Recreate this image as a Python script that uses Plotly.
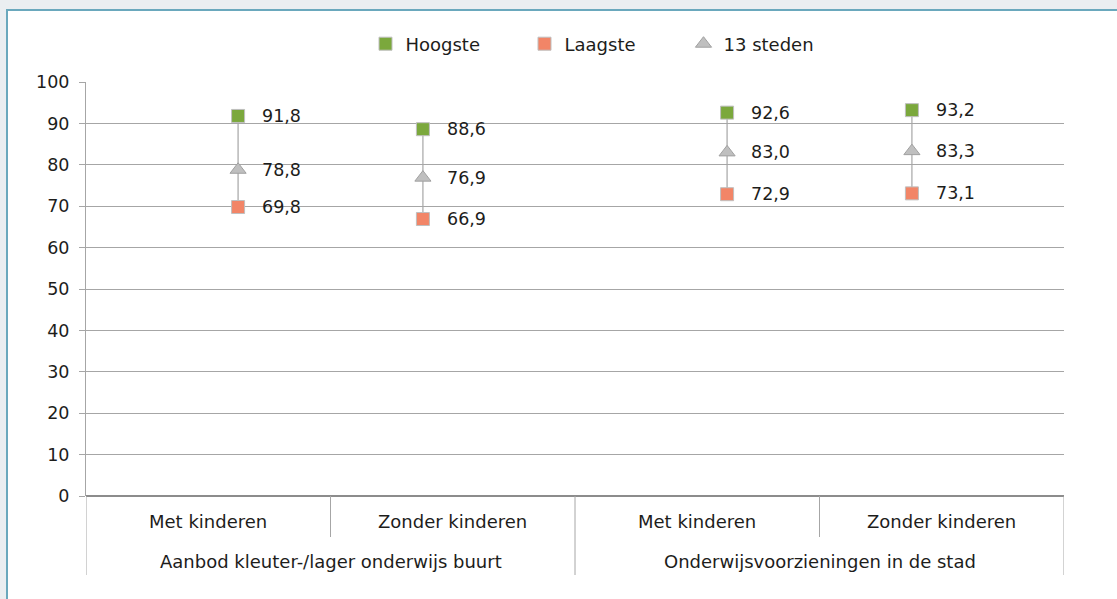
import plotly.graph_objects as go

# ---- data ----
groups = ["Aanbod kleuter-/lager onderwijs buurt", "Onderwijsvoorzieningen in de stad"]
subcats = ["Met kinderen", "Zonder kinderen", "Met kinderen", "Zonder kinderen"]
hoogste = [91.8, 88.6, 92.6, 93.2]
laagste = [69.8, 66.9, 72.9, 73.1]
steden13 = [78.8, 76.9, 83.0, 83.3]
y_ticks = list(range(0, 101, 10))

W, H = 1117, 599
FONT = "DejaVu Sans"
FS = 18      # words
FN = 17.5    # numbers
TXT = "#1d1d1b"
GRID = "#a6a6a6"

# plot area in pixels
L, R, T, B = 86, 1064, 82, 496
def px(x):
    return x / W
def py(y):
    return 1 - y / H

# marker positions: category index with a small alternating offset (as in the original)
off = 0.122
xpos = [i + (off if i % 2 == 0 else -off) for i in range(len(subcats))]

fig = go.Figure()

# connectors high-low
lx, ly = [], []
for x, lo, hi in zip(xpos, laagste, hoogste):
    lx += [x, x, None]
    ly += [lo, hi, None]
fig.add_trace(go.Scatter(x=lx, y=ly, mode="lines", line=dict(color="#a6a6a6", width=1.2),
                         showlegend=False, hoverinfo="skip"))

fig.add_trace(go.Scatter(x=xpos, y=hoogste, mode="markers", name="Hoogste",
                         marker=dict(symbol="square", size=13, color="#7ba83c",
                                     line=dict(color="#bfbfbf", width=1))))
fig.add_trace(go.Scatter(x=xpos, y=laagste, mode="markers", name="Laagste",
                         marker=dict(symbol="square", size=13, color="#f28567",
                                     line=dict(color="#bfbfbf", width=1))))
fig.add_trace(go.Scatter(x=xpos, y=steden13, mode="markers", name="13 steden",
                         marker=dict(symbol="triangle-up", size=14, color="#bfbfbf",
                                     line=dict(color="#a0a0a0", width=1))))

annotations = []
for series in (hoogste, laagste, steden13):
    for x, v in zip(xpos, series):
        annotations.append(dict(x=x, y=v, xref="x", yref="y", text=f"{v:.1f}".replace(".", ","),
                                showarrow=False, xanchor="left", yanchor="middle", xshift=22,
                                font=dict(family=FONT, size=FN, color=TXT)))

# category labels
for i, s in enumerate(subcats):
    annotations.append(dict(x=i, y=py(521), xref="x", yref="paper", text=s, showarrow=False,
                            xanchor="center", yanchor="middle",
                            font=dict(family=FONT, size=FS, color=TXT)))
for g_i, g in enumerate(groups):
    annotations.append(dict(x=g_i * 2 + 0.5, y=py(561), xref="x", yref="paper", text=g,
                            showarrow=False, xanchor="center", yanchor="middle",
                            font=dict(family=FONT, size=FS, color=TXT)))

shapes = [
    # white panel with blue frame
    dict(type="rect", xref="paper", yref="paper", x0=px(7), y0=-0.02, x1=1.02, y1=py(10),
         fillcolor="white", line=dict(color="#6aa8bd", width=2), layer="below"),
]
# dividers
for k in range(len(subcats) + 1):
    xd = k - 0.5
    bottom = 575 if k % 2 == 0 else 537
    shapes.append(dict(type="line", xref="x", yref="paper", x0=xd, x1=xd, y0=py(B), y1=py(bottom),
                       line=dict(color=GRID, width=1)))

fig.update_layout(
    width=W, height=H,
    margin=dict(l=0, r=0, t=0, b=0),
    paper_bgcolor="#eaeef1",
    plot_bgcolor="rgba(0,0,0,0)",
    font=dict(family=FONT, size=FS, color=TXT),
    showlegend=True,
    legend=dict(orientation="h", x=px(604), xanchor="center", y=py(44), yanchor="middle",
                font=dict(family=FONT, size=FS, color=TXT), bgcolor="rgba(0,0,0,0)",
                entrywidth=114, itemclick=False),
    xaxis=dict(domain=[px(L), px(R)], range=[-0.5, len(subcats) - 0.5], showgrid=False,
               zeroline=False, showticklabels=False, showline=False, fixedrange=True),
    yaxis=dict(domain=[py(B), py(T)], range=[0, 100], tickvals=y_ticks, showgrid=True,
               gridcolor=GRID, gridwidth=1, zeroline=True, zerolinecolor="#8c8c8c",
               showline=True, linecolor=GRID, linewidth=1, ticks="outside", ticklen=6,
               tickcolor=GRID, tickfont=dict(family=FONT, size=FN, color=TXT),
               ticklabelstandoff=6, automargin=False, fixedrange=True),
    annotations=annotations,
    shapes=shapes,
)

fig.write_html("out.html", config={"displayModeBar": False},
               post_script="document.body.style.margin='0';document.body.style.background='#eaeef1';")
